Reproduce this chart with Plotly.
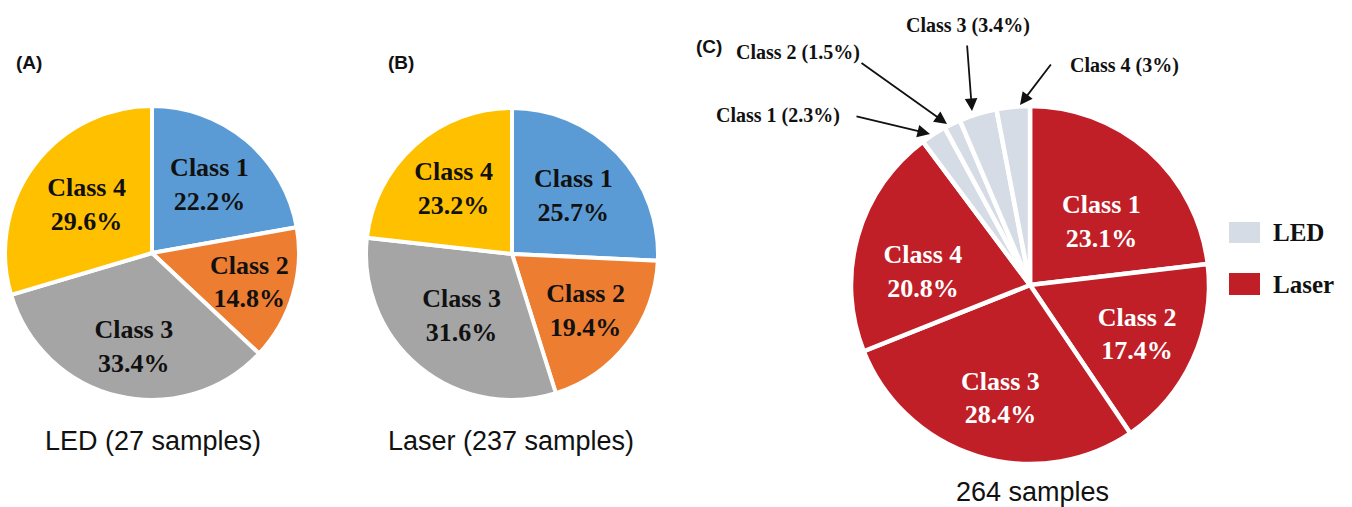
import plotly.graph_objects as go

W, H = 1352, 507

classes = ["Class 1", "Class 2", "Class 3", "Class 4"]
led_pct = [22.2, 14.8, 33.4, 29.6]
laser_pct = [25.7, 19.4, 31.6, 23.2]
combined_laser_pct = [23.1, 17.4, 28.4, 20.8]
combined_led_pct = [2.3, 1.5, 3.4, 3.0]
combined_led_text = ["2.3%", "1.5%", "3.4%", "3%"]

class_colors = ["#5B9BD5", "#ED7D31", "#A5A5A5", "#FFC000"]
led_color = "#D6DCE5"
laser_color = "#C01F28"

SERIF = "Liberation Serif"
SANS = "Liberation Sans, Arial"

# a leading blank line nudges some labels lower inside their slices, as in the original
NB = "\u00a0<br>"
lead_A = ["", "", NB, ""]
lead_B = ["", "", "", ""]
lead_C = [NB, "", NB, NB]


def px_dom(cx, cy, r):
    return dict(x=[(cx - r) / W, (cx + r) / W], y=[1 - (cy + r) / H, 1 - (cy - r) / H])


fig = go.Figure()

for vals, lead, dom in [(led_pct, lead_A, px_dom(152, 253, 147)),
                        (laser_pct, lead_B, px_dom(512, 254, 146))]:
    fig.add_trace(go.Pie(
        labels=classes, values=vals, sort=False, direction="clockwise", rotation=0,
        text=[f"{p}{c}<br>{v}%" for p, c, v in zip(lead, classes, vals)], textinfo="text",
        textposition="inside", insidetextorientation="horizontal",
        textfont=dict(family=SERIF, size=26, color="#111111", weight="bold"),
        marker=dict(colors=class_colors, line=dict(color="white", width=4)),
        domain=dom, showlegend=False, hoverinfo="label+percent",
    ))

c_labels = [f"Laser {c}" for c in classes] + [f"LED {c}" for c in classes]
c_values = combined_laser_pct + combined_led_pct
c_text = [f"{p}{c}<br>{v}%" for p, c, v in zip(lead_C, classes, combined_laser_pct)] + ["", "", "", ""]
fig.add_trace(go.Pie(
    labels=c_labels, values=c_values, sort=False, direction="clockwise", rotation=0,
    text=c_text, textinfo="text", textposition="inside", insidetextorientation="horizontal",
    textfont=dict(family=SERIF, size=26, color="white", weight="bold"),
    marker=dict(colors=[laser_color] * 4 + [led_color] * 4, line=dict(color="white", width=4.5)),
    domain=px_dom(1030, 285, 179), showlegend=False, hoverinfo="label+value",
))

annotations = []


def ann(text, x, y, size, family, bold=False, xanchor="center", color="#111111"):
    annotations.append(dict(
        text=f"<b>{text}</b>" if bold else text, x=x / W, y=1 - y / H, xref="paper", yref="paper",
        showarrow=False, xanchor=xanchor, yanchor="middle",
        font=dict(size=size, family=family, color=color)))


ann("(A)", 14, 63, 19, SANS, True, "left")
ann("(B)", 386, 63, 19, SANS, True, "left")
ann("(C)", 694, 46, 19, SANS, True, "left")
ann("LED (27 samples)", 153, 441, 27, SANS)
ann("Laser (237 samples)", 511, 441, 27, SANS)
ann("264 samples", 1032, 492, 27, SANS)

# LED slice callouts in panel C
callouts = [
    (f"Class 1 ({combined_led_text[0]})", 778, 115, (855, 116), (930, 134)),
    (f"Class 2 ({combined_led_text[1]})", 798, 53, (860, 62), (947, 124)),
    (f"Class 3 ({combined_led_text[2]})", 968, 25, (967, 44), (972, 111)),
    (f"Class 4 ({combined_led_text[3]})", 1124, 65, (1052, 63), (1020, 105)),
]
for txt, tx, ty, tail, head in callouts:
    ann(txt, tx, ty, 20, SERIF, True)
    annotations.append(dict(
        text="", x=head[0] / W, y=1 - head[1] / H, xref="paper", yref="paper",
        ax=tail[0] - head[0], ay=tail[1] - head[1], axref="pixel", ayref="pixel",
        showarrow=True, arrowhead=2, arrowsize=1.4, arrowwidth=1.8, arrowcolor="#111111",
        standoff=0, startstandoff=0))

# legend
ann("LED", 1271, 232, 25, SERIF, True, "left")
ann("Laser", 1271, 284, 25, SERIF, True, "left")
shapes = [
    dict(type="rect", xref="paper", yref="paper", x0=1229 / W, x1=1260 / W,
         y0=1 - 243 / H, y1=1 - 222 / H, fillcolor=led_color, line=dict(width=0)),
    dict(type="rect", xref="paper", yref="paper", x0=1229 / W, x1=1260 / W,
         y0=1 - 295 / H, y1=1 - 273 / H, fillcolor=laser_color, line=dict(width=0)),
]

fig.update_layout(
    width=W, height=H, margin=dict(l=0, r=0, t=0, b=0),
    paper_bgcolor="white", plot_bgcolor="white",
    annotations=annotations, shapes=shapes, showlegend=False,
    uniformtext=dict(minsize=26, mode="show"),
)

fig.write_html("out.html", config={"displayModeBar": False},
               post_script="document.body.style.margin='0px';")
